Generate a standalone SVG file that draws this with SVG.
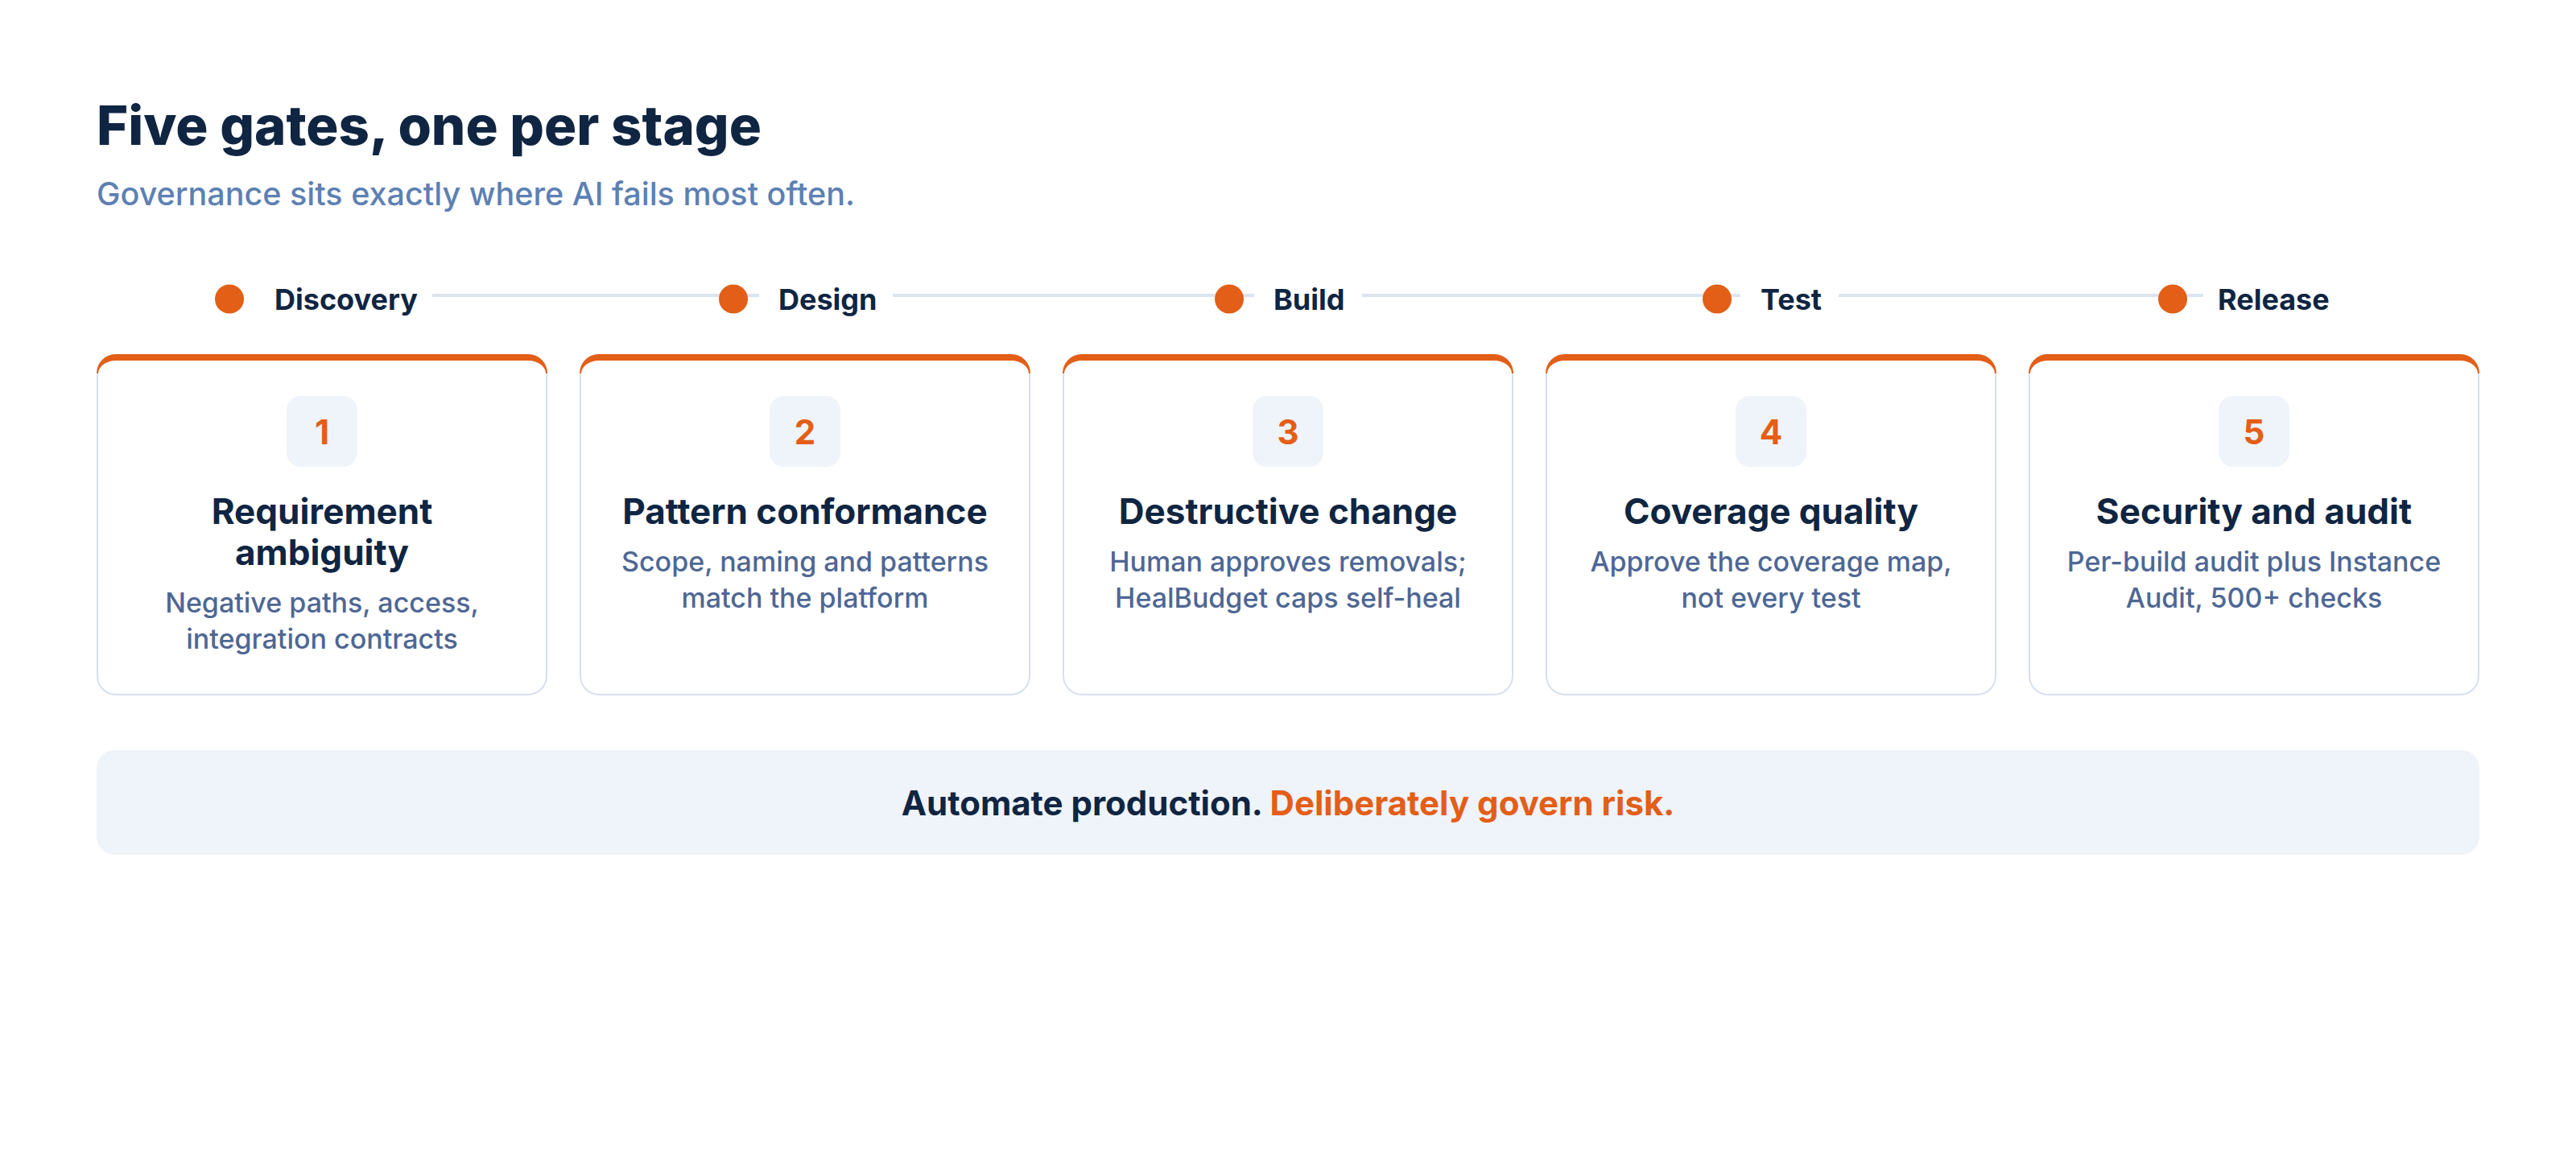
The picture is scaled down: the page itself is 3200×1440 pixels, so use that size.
<svg xmlns="http://www.w3.org/2000/svg" xmlns:xlink="http://www.w3.org/1999/xlink" width="3200" height="1440" viewBox="0 0 3200 1440">
  <style>
    .h1 { font-family: Inter, "Noto Sans", "Liberation Sans", sans-serif; font-weight: 800; font-size: 67px; fill: #0f2542; }
    .sub { font-family: Inter, "Noto Sans", "Liberation Sans", sans-serif; font-weight: 500; font-size: 39.5px; fill: #5d80b3; }
    .stage { font-family: Inter, "Noto Sans", "Liberation Sans", sans-serif; font-weight: 700; font-size: 36px; fill: #0f2542; }
    .num { font-family: Inter, "Noto Sans", "Liberation Sans", sans-serif; font-weight: 700; font-size: 42px; fill: #e35e17; text-anchor: middle; }
    .ttl { font-family: Inter, "Noto Sans", "Liberation Sans", sans-serif; font-weight: 700; font-size: 44px; fill: #0f2542; text-anchor: middle; }
    .desc { font-family: Inter, "Noto Sans", "Liberation Sans", sans-serif; font-weight: 500; font-size: 34px; fill: #4e6794; text-anchor: middle; }
    .banner-t { font-family: Inter, "Noto Sans", "Liberation Sans", sans-serif; font-weight: 700; font-size: 42px; fill: #0f2542; text-anchor: middle; }
    .accent { fill: #e35e17; }
    .dot { fill: #e35e17; }
    .badge { fill: #eff3fa; }
    .conn { stroke: #dbe4f0; stroke-width: 4; fill: none; }
  </style>
  <defs>
    <g id="cardShape">
      <rect x="0" y="0" width="560" height="424" rx="24" ry="24" fill="#d7e1ee"/>
      <path d="M0,24 A24,24 0 0 1 24,0 H536 A24,24 0 0 1 560,24 Z" fill="#e35e17"/>
      <path d="M2,24 A22,16 0 0 1 24,8 H536 A22,16 0 0 1 558,24 V400 A22,22 0 0 1 536,422 H24 A22,22 0 0 1 2,400 Z" fill="#ffffff"/>
    </g>
  </defs>

  <rect x="0" y="0" width="3200" height="1440" fill="#ffffff"/>

  <g id="header">
    <text class="h1" x="120" y="180">Five gates, one per stage</text>
    <text class="sub" x="120" y="255">Governance sits exactly where AI fails most often.</text>
  </g>

  <g id="connectors">
    <line class="conn" x1="537" y1="367" x2="943" y2="367"/>
    <line class="conn" x1="1109" y1="367" x2="1558" y2="367"/>
    <line class="conn" x1="1692" y1="367" x2="2162" y2="367"/>
    <line class="conn" x1="2284" y1="367" x2="2737" y2="367"/>
  </g>

  <g id="stage-discovery">
    <circle class="dot" cx="285" cy="371.5" r="18"/>
    <text class="stage" x="341" y="385">Discovery</text>
  </g>
  <g id="stage-design">
    <circle class="dot" cx="911" cy="371.5" r="18"/>
    <text class="stage" x="967" y="385">Design</text>
  </g>
  <g id="stage-build">
    <circle class="dot" cx="1527" cy="371.5" r="18"/>
    <text class="stage" x="1582" y="385">Build</text>
  </g>
  <g id="stage-test">
    <circle class="dot" cx="2133" cy="371.5" r="18"/>
    <text class="stage" x="2187" y="385">Test</text>
  </g>
  <g id="stage-release">
    <circle class="dot" cx="2699" cy="371.5" r="18"/>
    <text class="stage" x="2755" y="385">Release</text>
  </g>

  <g id="gate-1">
    <use xlink:href="#cardShape" x="120" y="440"/>
    <rect class="badge" x="356" y="492" width="88" height="88" rx="18"/>
    <text class="num" x="400" y="552">1</text>
    <text class="ttl" x="400" y="651">Requirement</text>
    <text class="ttl" x="400" y="702">ambiguity</text>
    <text class="desc" x="400" y="761">Negative paths, access,</text>
    <text class="desc" x="400" y="806">integration contracts</text>
  </g>

  <g id="gate-2">
    <use xlink:href="#cardShape" x="720" y="440"/>
    <rect class="badge" x="956" y="492" width="88" height="88" rx="18"/>
    <text class="num" x="1000" y="552">2</text>
    <text class="ttl" x="1000" y="651">Pattern conformance</text>
    <text class="desc" x="1000" y="710">Scope, naming and patterns</text>
    <text class="desc" x="1000" y="755">match the platform</text>
  </g>

  <g id="gate-3">
    <use xlink:href="#cardShape" x="1320" y="440"/>
    <rect class="badge" x="1556" y="492" width="88" height="88" rx="18"/>
    <text class="num" x="1600" y="552">3</text>
    <text class="ttl" x="1600" y="651">Destructive change</text>
    <text class="desc" x="1600" y="710">Human approves removals;</text>
    <text class="desc" x="1600" y="755">HealBudget caps self-heal</text>
  </g>

  <g id="gate-4">
    <use xlink:href="#cardShape" x="1920" y="440"/>
    <rect class="badge" x="2156" y="492" width="88" height="88" rx="18"/>
    <text class="num" x="2200" y="552">4</text>
    <text class="ttl" x="2200" y="651">Coverage quality</text>
    <text class="desc" x="2200" y="710">Approve the coverage map,</text>
    <text class="desc" x="2200" y="755">not every test</text>
  </g>

  <g id="gate-5">
    <use xlink:href="#cardShape" x="2520" y="440"/>
    <rect class="badge" x="2756" y="492" width="88" height="88" rx="18"/>
    <text class="num" x="2800" y="552">5</text>
    <text class="ttl" x="2800" y="651">Security and audit</text>
    <text class="desc" x="2800" y="710">Per-build audit plus Instance</text>
    <text class="desc" x="2800" y="755">Audit, 500+ checks</text>
  </g>

  <g id="banner">
    <rect x="120" y="932" width="2960" height="130" rx="22" fill="#eff3fa"/>
    <text class="banner-t" x="1600" y="1013">Automate production. <tspan class="accent">Deliberately govern risk.</tspan></text>
  </g>
</svg>
